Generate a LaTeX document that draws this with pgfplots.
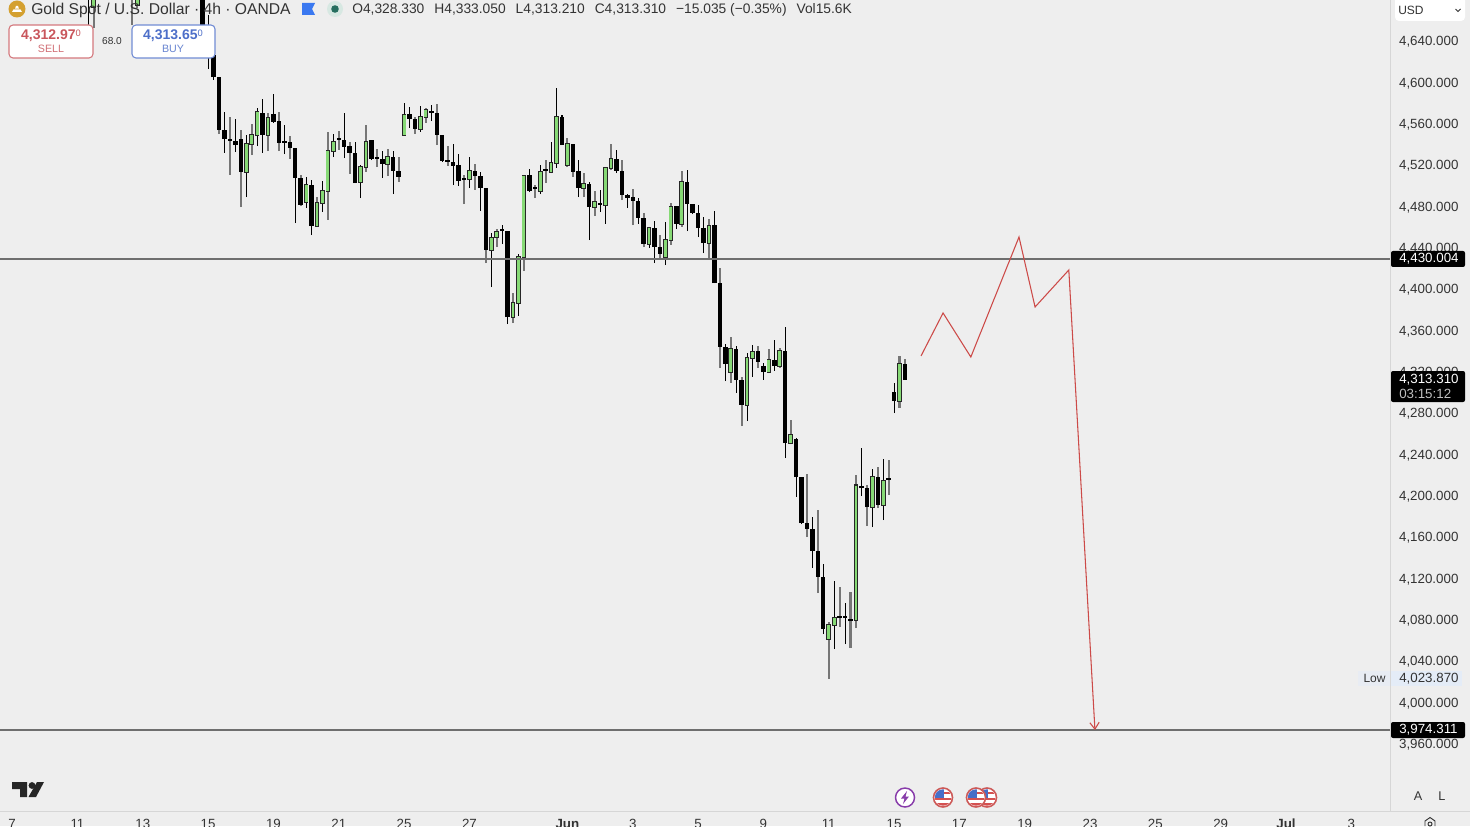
\documentclass[border=0pt]{standalone}
\usepackage{fontspec}
\setmainfont{Liberation Sans}
\usepackage{pgfplots}
\usepackage{pgfplotstable}
\pgfplotsset{compat=1.18}
\usetikzlibrary{arrows.meta}
\definecolor{bg}{HTML}{EEEEEE}
\definecolor{cgreen}{HTML}{86D975}
\definecolor{cgrey}{HTML}{767676}
\definecolor{lvl}{HTML}{6E6E6E}
\definecolor{cred}{HTML}{CC4A48}
\definecolor{txt}{HTML}{333333}
\definecolor{sep}{HTML}{D6D6D6}
\definecolor{sellc}{HTML}{C9565C}
\definecolor{buyc}{HTML}{4D6FC9}
\definecolor{gold}{HTML}{D4A030}
\definecolor{flagb}{HTML}{3A78F0}
\definecolor{halo}{HTML}{D7E8E2}
\definecolor{dotc}{HTML}{266E5F}
\definecolor{lowc}{HTML}{E4ECF7}
\definecolor{purp}{HTML}{883CAA}
\definecolor{usring}{HTML}{CD5A58}
\definecolor{usred}{HTML}{D45050}
\definecolor{usblue}{HTML}{466EC8}
\pgfplotstableread{
i o h l c w
-24 4700.0 4705.0 4654.5 4695.0 0
-23 4673.8 4695.0 4653.5 4690.0 1
-16 4700.0 4705.0 4656.4 4695.0 1
-15 4675.8 4695.0 4672.9 4690.0 1
-3 4695.0 4700.0 4656.0 4656.4 1
-2 4656.4 4666.1 4613.8 4627.4 0
-1 4627.4 4632.2 4603.2 4606.1 0
0 4606.4 4606.4 4551.0 4554.8 1
1 4554.8 4572.2 4532.6 4546.1 0
2 4546.1 4567.4 4511.3 4544.2 1
3 4544.2 4565.5 4533.5 4540.3 0
4 4546.1 4554.8 4480.3 4514.2 1
5 4514.2 4550.0 4490.0 4541.3 0
6 4541.3 4560.6 4530.6 4550.0 1
7 4550.0 4576.1 4539.3 4572.2 0
8 4571.3 4584.8 4532.6 4550.0 0
9 4550.0 4571.3 4534.5 4566.4 1
10 4570.3 4589.7 4561.6 4562.6 0
11 4563.5 4572.2 4534.5 4542.2 1
12 4543.2 4559.7 4531.6 4542.6 0
13 4543.2 4549.0 4526.8 4537.4 1
14 4537.4 4537.4 4464.8 4508.4 0
15 4508.4 4511.3 4481.3 4482.3 1
16 4485.2 4509.4 4479.4 4501.6 0
17 4501.6 4506.5 4453.2 4461.9 0
18 4461.9 4490.0 4461.9 4484.2 1
19 4484.2 4505.5 4475.5 4495.8 0
20 4495.8 4552.9 4467.8 4534.5 1
21 4534.5 4551.0 4528.7 4543.2 0
22 4546.1 4553.9 4535.5 4545.1 1
23 4545.1 4571.3 4527.7 4538.4 0
24 4539.3 4543.2 4512.3 4532.6 1
25 4532.6 4543.2 4503.5 4503.5 0
26 4504.5 4521.0 4489.0 4519.0 0
27 4519.0 4559.7 4514.2 4543.2 1
28 4545.1 4545.1 4525.8 4526.8 0
29 4527.7 4536.4 4519.0 4526.8 1
30 4526.8 4534.5 4508.4 4521.9 0
31 4521.9 4536.4 4510.3 4528.7 1
32 4528.7 4534.5 4492.9 4515.2 0
33 4515.2 4528.7 4504.5 4509.4 1
34 4550.0 4580.9 4550.0 4569.3 0
35 4570.3 4577.1 4556.8 4565.5 0
36 4565.5 4567.4 4551.0 4555.8 1
37 4555.8 4578.0 4552.9 4567.4 0
38 4567.4 4576.1 4561.6 4574.2 1
39 4573.2 4579.0 4563.5 4571.3 0
40 4571.3 4580.0 4540.3 4550.0 1
41 4550.0 4550.0 4523.9 4524.8 0
42 4525.8 4539.3 4520.0 4523.9 1
43 4523.9 4541.3 4501.6 4520.0 0
44 4521.0 4531.6 4500.6 4505.5 0
45 4508.4 4511.3 4483.2 4506.5 1
46 4507.4 4528.7 4498.7 4515.2 0
47 4515.2 4521.9 4496.8 4510.3 1
48 4510.3 4514.2 4476.5 4498.7 0
49 4498.7 4498.7 4426.1 4438.7 1
50 4438.7 4455.2 4402.9 4450.3 0
51 4451.3 4459.0 4441.6 4456.1 1
52 4458.1 4462.9 4444.5 4457.1 0
53 4457.1 4457.1 4367.1 4373.9 0
54 4373.9 4397.1 4368.1 4387.4 1
55 4387.4 4434.9 4374.9 4431.9 0
56 4431.9 4510.3 4418.4 4510.3 1
57 4511.3 4517.1 4494.8 4495.8 0
58 4498.7 4501.6 4489.0 4497.7 1
59 4495.8 4521.0 4492.9 4514.2 0
60 4516.1 4525.8 4503.5 4515.2 1
61 4514.2 4543.2 4513.2 4522.9 0
62 4522.9 4595.5 4518.1 4567.4 0
63 4567.4 4569.3 4540.3 4540.3 0
64 4521.0 4547.1 4519.0 4541.3 1
65 4541.3 4541.3 4509.4 4514.2 1
66 4515.2 4525.8 4490.0 4498.7 0
67 4498.7 4513.2 4490.0 4502.6 1
68 4502.6 4504.5 4448.4 4480.3 0
69 4480.3 4495.8 4471.6 4485.2 1
70 4483.2 4496.8 4475.5 4482.3 0
71 4482.3 4519.0 4463.9 4518.1 0
72 4518.1 4541.3 4516.1 4526.8 1
73 4526.8 4535.5 4513.2 4515.2 0
74 4515.2 4525.8 4487.1 4491.9 1
75 4491.9 4492.9 4479.4 4489.0 0
76 4490.0 4497.7 4462.9 4486.1 1
77 4486.1 4489.0 4463.9 4469.7 0
78 4469.7 4474.5 4441.6 4444.5 1
79 4444.5 4461.0 4440.7 4460.0 0
80 4460.0 4466.8 4426.1 4441.6 0
81 4441.6 4453.2 4431.0 4434.9 1
82 4431.9 4465.8 4424.2 4448.4 0
83 4448.4 4484.2 4443.6 4480.3 1
84 4481.3 4481.3 4459.0 4463.9 0
85 4463.9 4515.2 4461.0 4504.5 1
86 4504.5 4516.1 4457.1 4483.2 0
87 4483.2 4483.2 4473.5 4474.5 0
88 4474.5 4482.3 4451.3 4460.0 0
89 4460.0 4470.6 4435.8 4445.5 0
90 4445.5 4468.7 4431.0 4461.9 1
91 4462.9 4476.5 4406.8 4406.8 0
92 4406.8 4421.3 4324.6 4344.9 1
93 4344.9 4347.8 4312.0 4328.4 0
94 4320.7 4354.5 4310.0 4343.0 1
95 4343.0 4345.8 4300.4 4313.0 0
96 4313.0 4315.9 4268.4 4288.8 1
97 4288.8 4339.1 4273.3 4334.2 0
98 4334.2 4346.8 4315.9 4340.0 0
99 4341.0 4345.8 4324.6 4330.4 1
100 4326.5 4329.4 4313.0 4320.7 0
101 4320.7 4343.0 4319.7 4332.3 1
102 4332.3 4351.7 4321.7 4326.5 0
103 4326.5 4343.9 4324.6 4341.0 1
104 4341.0 4364.2 4237.5 4252.0 0
105 4252.0 4274.3 4251.0 4259.7 1
106 4255.9 4256.8 4199.8 4219.1 0
107 4219.1 4219.1 4173.6 4174.6 0
108 4174.6 4222.0 4161.0 4168.8 1
109 4168.8 4180.4 4131.1 4147.5 0
110 4147.5 4187.2 4106.9 4122.4 1
111 4122.4 4134.9 4067.2 4072.0 0
112 4062.4 4078.8 4023.9 4075.9 1
113 4075.9 4118.5 4052.7 4082.7 0
114 4084.6 4112.7 4074.0 4082.7 1
115 4084.6 4097.2 4057.5 4082.7 0
116 4081.7 4107.8 4053.7 4079.8 1
117 4080.8 4221.0 4073.0 4211.3 1
118 4209.4 4247.2 4200.7 4208.4 0
119 4208.4 4211.3 4171.7 4190.1 1
120 4190.1 4226.8 4170.7 4219.1 0
121 4219.1 4228.8 4189.1 4192.0 1
122 4192.0 4236.5 4177.5 4215.2 0
123 4218.1 4235.6 4201.7 4216.2 1
124 4301.3 4310.0 4281.0 4292.6 0
125 4292.6 4336.2 4285.9 4328.4 1
126 4328.33 4333.05 4313.21 4313.31 1
}\candles
\pgfplotsset{
  wickbar/.style 2 args={draw=none,mark=none,forget plot,
    error bars/.cd,y dir=plus,y explicit,error mark=none,
    error bar style={line width=#1,color=#2,line cap=butt}},
}
\begin{document}
\begin{tikzpicture}[font=\fontsize{10pt}{12pt}\selectfont]
\clip (0,0) rectangle (1102.5pt,619.5pt);
\fill[bg] (0,0) rectangle (1102.5pt,619.5pt);
\begin{axis}[
  at={(0pt,11.25pt)},anchor=south west,
  scale only axis,width=1042.5pt,height=608.25pt,
  xmin=-40.23,xmax=215.1,ymin=3896.0,ymax=4680.6,
  axis x line*=bottom,axis y line*=right,
  axis line style={draw=sep,line width=0.75pt,-},
  tick style={draw=none},major tick length=0pt,
  ytick={3960,4000,4040,4080,4120,4160,4200,4240,4280,4320,4360,4400,4440,4480,4520,4560,4600,4640},
  xtick={-38,-26,-14,-2,10,22,34,46,64,76,88,100,112,124,136,148,160,172,184,196,208},
  xticklabels={7,11,13,15,19,21,25,27,\textbf{Jun},3,5,9,11,15,17,19,23,25,29,\textbf{Jul},3},
  yticklabel pos=right,
  y tick label style={/pgf/number format/.cd,fixed,fixed zerofill,precision=3,1000 sep={,},assume math mode=true,
    /tikz/.cd,font=\fontsize{10pt}{12pt}\selectfont,text=txt,xshift=3.3pt,anchor=west},
  x tick label style={font=\fontsize{10pt}{12pt}\selectfont,text=txt,/pgf/number format/assume math mode=true,anchor=north,yshift=-2.6pt},
  clip=true,
]
\addplot[wickbar={0.8pt}{black}] table[x=i,y=l,y error plus expr=\thisrow{h}-\thisrow{l},restrict expr to domain={\thisrow{w}}{0:0}] {\candles};
\addplot[wickbar={1.6pt}{cgrey}] table[x=i,y=l,y error plus expr=\thisrow{h}-\thisrow{l},restrict expr to domain={\thisrow{w}}{1:1}] {\candles};
\addplot[wickbar={3.3pt}{black}] table[x=i,y expr={min(\thisrow{o},\thisrow{c})},y error plus expr={max(abs(\thisrow{c}-\thisrow{o}),1.6)},restrict expr to domain={\thisrow{c}-\thisrow{o}}{-1000:0}] {\candles};
\addplot[wickbar={3.5pt}{black!85}] table[x=i,y expr={min(\thisrow{o},\thisrow{c})-0.6},y error plus expr={abs(\thisrow{c}-\thisrow{o})+1.2},restrict expr to domain={\thisrow{c}-\thisrow{o}}{0:1000}] {\candles};
\addplot[wickbar={2.1pt}{cgreen}] table[x=i,y expr={min(\thisrow{o},\thisrow{c})+0.4},y error plus expr={abs(\thisrow{c}-\thisrow{o})-0.8},restrict expr to domain={\thisrow{c}-\thisrow{o}}{0:1000}] {\candles};
% horizontal levels
\addplot[lvl,line width=1.1pt,forget plot] coordinates {(-40.23,4430.004) (215.1,4430.004)};
\addplot[lvl,line width=1.1pt,forget plot] coordinates {(-40.23,3974.311) (215.1,3974.311)};
% drawn projection
\addplot[cred,line width=0.8pt,sharp plot,-{Straight Barb[length=5pt,width=7pt]},forget plot] coordinates {
 (128.95,4336.2) (133.0,4377.8) (138.1,4335.2) (146.95,4451.3) (149.9,4383.6) (156.1,4419.4) (160.9,3974.3)};
\end{axis}
\begin{scope}[x=0.75pt,y=-0.75pt,shift={(0pt,619.5pt)}]
% separator
\draw[sep,line width=0.75pt] (0,811) -- (1470,811);
\draw[sep,line width=0.75pt] (1390,0) -- (1390,811);
% header
\fill[gold] (17,9) circle (8.5);
\fill[white] (12,12) -- (13.5,9.5) -- (20.5,9.5) -- (22,12) -- cycle;
\fill[white] (15,8.7) -- (16,6) -- (18,6) -- (19,8.7) -- cycle;
\node[anchor=west,inner sep=0pt,text=black!80] at (31,10) {\fontsize{11.75pt}{13pt}\selectfont Gold Spot / U.S. Dollar · 4h · OANDA};
\fill[flagb] (302,3) -- (315,3) -- (312,9) -- (315,15) -- (302,15) -- cycle;
\fill[halo] (335,9) circle (8);
\fill[dotc] (335,9) circle (3.8);
\node[anchor=west,inner sep=0pt,text=black!80] at (352,9.7) {\fontsize{10.35pt}{12pt}\selectfont O4,328.330\hspace{7.5pt}H4,333.050\hspace{7.5pt}L4,313.210\hspace{7.5pt}C4,313.310\hspace{7.5pt}−15.035 (−0.35\%)\hspace{7.5pt}Vol15.6K};
% sell / buy
\filldraw[fill=white,draw=sellc!80,line width=0.8pt,rounded corners=3pt] (9,25) rectangle (93,58);
\node[text=sellc,inner sep=0pt] at (51,35.5) {\fontsize{10.5pt}{12pt}\selectfont\textbf{4,312.97}\raisebox{2pt}{\fontsize{7pt}{8pt}\selectfont 0}};
\node[text=sellc!85,inner sep=0pt] at (51,48.5) {\fontsize{8pt}{10pt}\selectfont SELL};
\node[text=txt,inner sep=0pt] at (112,41.5) {\fontsize{7.6pt}{9pt}\selectfont 68.0};
\filldraw[fill=white,draw=buyc!80,line width=0.8pt,rounded corners=3pt] (132,25) rectangle (215,58);
\node[text=buyc,inner sep=0pt] at (173,35.5) {\fontsize{10.5pt}{12pt}\selectfont\textbf{4,313.65}\raisebox{2pt}{\fontsize{7pt}{8pt}\selectfont 0}};
\node[text=buyc!85,inner sep=0pt] at (173,48.5) {\fontsize{8pt}{10pt}\selectfont BUY};
% USD
\fill[white,rounded corners=3pt] (1395,-4) rectangle (1465,21);
\node[anchor=west,inner sep=0pt,text=txt] at (1398,10) {\fontsize{9pt}{11pt}\selectfont USD};
\draw[txt,line width=0.7pt] (1455.5,9) -- (1458,11.5) -- (1460.5,9);
% tags
\fill[lowc] (1391,671) rectangle (1462,686);
\fill[lowc,opacity=.6] (1358,671) rectangle (1390,686);
\node[text=txt,inner sep=0pt] at (1374.5,678.5) {\fontsize{9pt}{11pt}\selectfont Low};
\node[anchor=west,text=txt,inner sep=0pt] at (1399,679) {4,023.870};
\fill[black,rounded corners=1.5pt] (1391,251) rectangle (1465,267);
\node[anchor=west,text=white,inner sep=0pt] at (1399,259) {4,430.004};
\fill[black,rounded corners=1.5pt] (1391,371) rectangle (1465,402);
\node[anchor=west,text=white,inner sep=0pt] at (1399,379.5) {4,313.310};
\node[anchor=west,text=white!75!black,inner sep=0pt] at (1399,393.5) {03:15:12};
\fill[black,rounded corners=1.5pt] (1391,722) rectangle (1465,738);
\node[anchor=west,text=white,inner sep=0pt] at (1399,730) {3,974.311};
% logo
\fill[black!85] (12,782) -- (27,782) -- (27,797) -- (20,797) -- (20,789) -- (12,789) -- cycle;
\fill[black!85] (32,785.5) circle (3.4);
\fill[black!85] (37,782) -- (44,782) -- (36,797) -- (28.5,797) -- cycle;
% A L
\node[text=txt,inner sep=0pt] at (1418,796) {\fontsize{9.5pt}{11pt}\selectfont A};
\node[text=txt,inner sep=0pt] at (1442,796) {\fontsize{9.5pt}{11pt}\selectfont L};
\draw[txt,line width=0.7pt] (1425,826) -- (1425,821) -- (1430,817.5) -- (1435,821) -- (1435,826);
\draw[txt,line width=0.7pt] (1430,824) circle (2);
% event icons
\filldraw[fill=white,draw=purp,line width=1.1pt] (905,797.5) circle (9.5);
\fill[purp] (907,791) -- (901,798.5) -- (904.5,798.5) -- (903,804) -- (909,796.5) -- (905.5,796.5) -- cycle;
\newcommand{\usflag}[1]{%
 \begin{scope}[shift={(#1,797.5)}]
 \filldraw[fill=white,draw=usring,line width=1.2pt] (0,0) circle (9.5);
 \begin{scope}\clip (0,0) circle (8.2);
 \fill[usred] (-9,-5.5) rectangle (9,-3.3);
 \fill[usred] (-9,0) rectangle (9,2.2);
 \fill[usred] (-9,5) rectangle (9,8);
 \fill[usblue] (-9,-9) rectangle (1,0.5);
 \end{scope}
 \end{scope}}
\usflag{987}
\usflag{976}
\usflag{943}
\end{scope}
\end{tikzpicture}
\end{document}
